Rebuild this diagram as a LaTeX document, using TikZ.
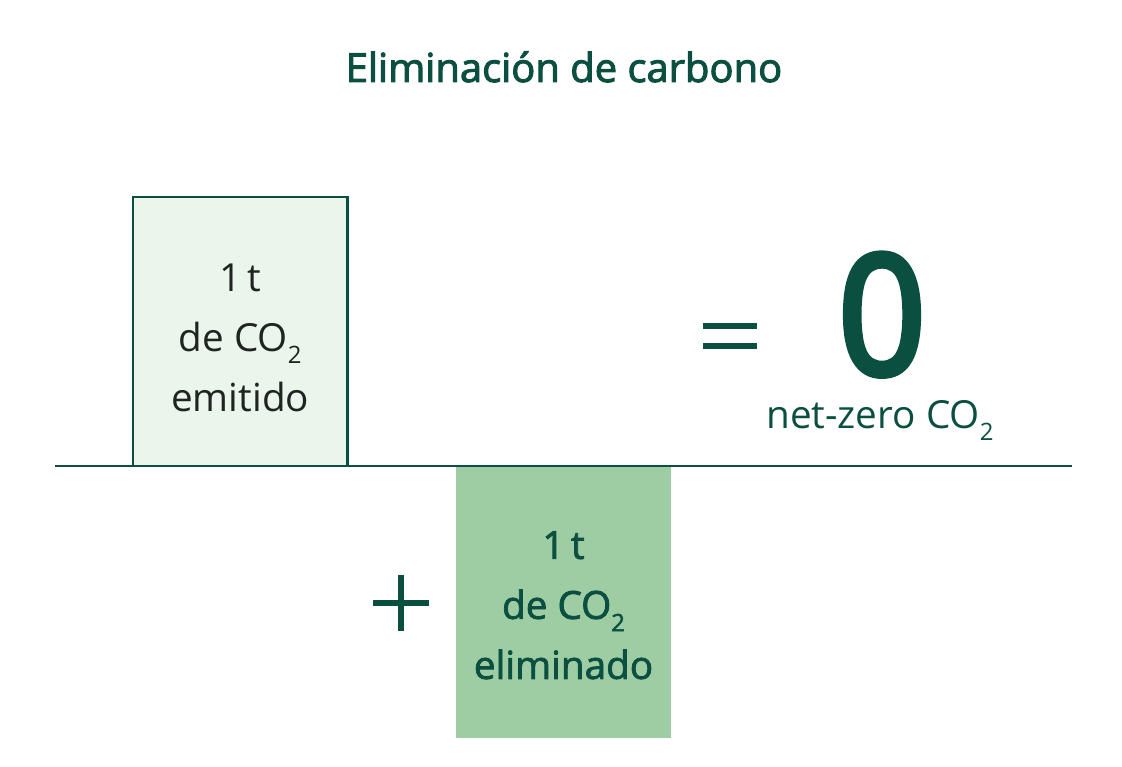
\documentclass[tikz,border=0pt]{standalone}
\usepackage{fontspec}
\setmainfont{Open Sans}
\newfontfamily\mediumfont[FakeBold=2]{Open Sans}
\newfontfamily\titlefont[FakeBold=2.5]{Open Sans}
\newfontfamily\zerofont[FakeBold=4]{Open Sans}
\definecolor{deep}{HTML}{0B4F41}
\definecolor{inkdark}{HTML}{1F2421}
\definecolor{tintlight}{HTML}{EBF5EC}
\definecolor{tintmid}{HTML}{9FCDA3}
\usetikzlibrary{positioning}
% CO2 con el 2 bajo y pequeno
\newcommand{\cotwo}{CO\raisebox{-0.32em}{\scalebox{0.62}{2}}}

\begin{document}
\begin{tikzpicture}[
  x=0.025cm, y=-0.025cm,
  cell/.style={inner sep=0pt, outer sep=0pt, minimum width=5.36cm},
  emitted/.style ={cell, draw=deep, line width=1.6pt, fill=tintlight,
                   minimum height=6.725cm},
  removed/.style ={cell, fill=tintmid, minimum width=5.375cm,
                   minimum height=6.8cm},
  celltext/.style={align=center, inner sep=0pt,
                   font=\fontsize{27.5}{42.7}\selectfont},
  sign/.style    ={draw=deep, line width=4.3pt},
]
  \useasboundingbox (0,0) rectangle (1122,767);

  % ---- titulo ----
  \node[text=deep, anchor=base, font=\fontsize{28.4}{30}\selectfont\titlefont]
    (title) at (564,82) {Eliminación de carbono};

  % ---- eje horizontal ----
  \coordinate (axisL) at (55,466);
  \coordinate (axisR) at (1072,466);

  % ---- las dos cajas ----
  \node[removed, anchor=north west] (out) at (456,466) {};
  \draw[deep, line width=1.5pt] (axisL) -- (axisR);
  \node[emitted, anchor=south west] (in) at (133,466) {};

  \node[celltext, text=inkdark] (inTxt) at ([yshift=-0.15cm]in.center)
    {1\,t\\de \cotwo\\emitido};
  \node[celltext, text=deep, font=\fontsize{27.5}{42.7}\selectfont\mediumfont]
    (outTxt) at ([yshift=-0.08cm]out.center)
    {1\,t\\de \cotwo\\eliminado};

  % ---- signos ----
  \coordinate (plus) at (401,603);
  \draw[sign] ([xshift=-0.69cm]plus) -- ([xshift=0.69cm]plus);
  \draw[sign] ([yshift=-0.69cm]plus) -- ([yshift=0.69cm]plus);

  \coordinate (eqA) at (703,326);
  \coordinate (eqB) at (703,346);
  \draw[sign] (eqA) -- ++(54,0);
  \draw[sign] (eqB) -- ++(54,0);

  % ---- resultado ----
  \node[text=deep, anchor=base, inner sep=0pt,
        font=\fontsize{118}{120}\selectfont\zerofont] (zero) at (882,374)
    {\scalebox{0.92}[1]{0}};
  \node[text=deep, anchor=base west, inner sep=0pt,
        font=\fontsize{27.5}{30}\selectfont] (net) at (766,428)
    {net-zero \cotwo};
\end{tikzpicture}
\end{document}
